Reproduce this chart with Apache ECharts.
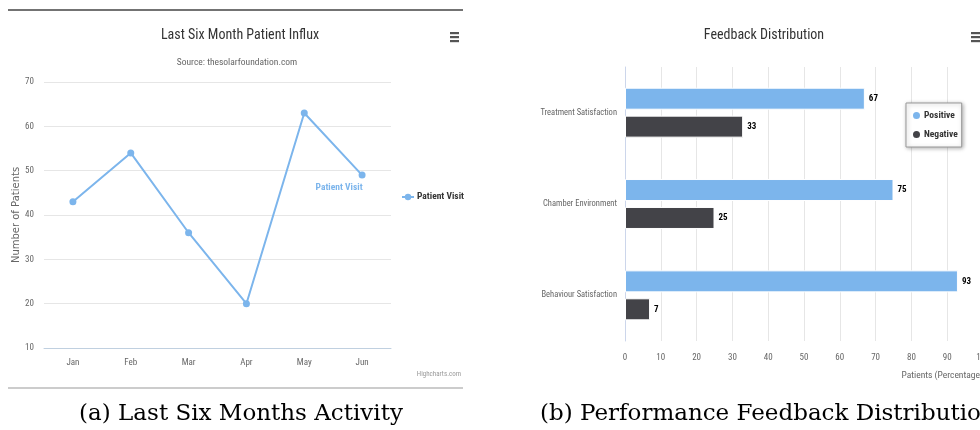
<!DOCTYPE html>
<html>
<head>
<meta charset="utf-8">
<script src="https://cdn.jsdelivr.net/npm/echarts@6/dist/echarts.min.js"></script>
<style>
  html, body { margin: 0; padding: 0; background: #fff; }
  #chart { width: 980px; height: 430px; }
</style>
</head>
<body>
<div id="chart"></div>
<script>
// Patient influx over six months
const months = ['Jan', 'Feb', 'Mar', 'Apr', 'May', 'Jun'];
const patientVisits = [43, 54, 36, 20, 63, 49];

// Feedback distribution per aspect (percent of patients)
const feedbackCategories = ['Treatment Satisfaction', 'Chamber Environment', 'Behaviour Satisfaction'];
const positiveFeedback = [67, 75, 93];
const negativeFeedback = [33, 25, 7];

const NARROW = '"Roboto Condensed", "DejaVu Sans Condensed", sans-serif';
const SERIF = '"DejaVu Serif", "Liberation Serif", serif';

// three-bar menu icon
function menuIcon(x, y) {
  return {
    type: 'group', x: x, y: y,
    children: [0, 4, 8].map(dy => ({
      type: 'rect', shape: { x: 0, y: dy, width: 9, height: 2.2 },
      style: { fill: '#555' }
    }))
  };
}

const chart = echarts.init(document.getElementById('chart'), null, { renderer: 'canvas' });

chart.setOption({
  animation: false,
  title: [
    { text: 'Last Six Month Patient Influx', left: 240, top: 28, textAlign: 'center', padding: 0,
      textStyle: { fontFamily: NARROW, fontSize: 14, fontWeight: 'normal', color: '#333' } },
    { text: 'Source: thesolarfoundation.com', left: 237, top: 58, textAlign: 'center', padding: 0,
      textStyle: { fontFamily: NARROW, fontSize: 9.5, fontWeight: 'normal', color: '#666' } },
    { text: 'Feedback Distribution', left: 764, top: 28, textAlign: 'center', padding: 0,
      textStyle: { fontFamily: NARROW, fontSize: 14, fontWeight: 'normal', color: '#333' } }
  ],
  legend: [
    { data: ['Patient Visit'], left: 401, top: 192, orient: 'vertical', padding: 0,
      itemWidth: 12, itemHeight: 8, itemGap: 4,
      textStyle: { fontFamily: NARROW, fontSize: 9.5, fontWeight: 'bold', color: '#333', padding: [0, 0, 0, -2] } },
    { data: ['Positive', 'Negative'], left: 906, top: 103, orient: 'vertical',
      icon: 'circle', itemWidth: 9, itemHeight: 9, itemGap: 8,
      padding: [7, 4, 7, 5],
      backgroundColor: '#fff', borderColor: '#999', borderWidth: 1,
      shadowColor: 'rgba(0,0,0,0.3)', shadowBlur: 4, shadowOffsetX: 1, shadowOffsetY: 1,
      textStyle: { fontFamily: NARROW, fontSize: 9.5, fontWeight: 'bold', color: '#333', padding: [0, 0, 0, -2] } }
  ],
  grid: [
    { left: 44, top: 82, width: 347, height: 266, outerBoundsMode: 'none' },
    { left: 625, top: 67, width: 358, height: 274, outerBoundsMode: 'none' }
  ],
  xAxis: [
    { type: 'category', gridIndex: 0, data: months, boundaryGap: true,
      axisLine: { lineStyle: { color: '#c0d0e0' } },
      axisTick: { show: false },
      axisLabel: { color: '#666', fontFamily: NARROW, fontSize: 9, margin: 10 } },
    { type: 'value', gridIndex: 1, min: 0, max: 100, interval: 10,
      name: 'Patients (Percentage)', nameLocation: 'end', nameGap: 0,
      nameTextStyle: { fontFamily: NARROW, fontSize: 9.5, color: '#666',
        align: 'right', verticalAlign: 'top', padding: [30, 0, 0, 0] },
      axisLine: { show: false }, axisTick: { show: false },
      splitLine: { lineStyle: { color: '#e6e6e6' } },
      axisLabel: { color: '#666', fontFamily: NARROW, fontSize: 9, margin: 12 } }
  ],
  yAxis: [
    { type: 'value', gridIndex: 0, min: 10, max: 70, interval: 10,
      name: 'Number of Patients', nameLocation: 'middle', nameRotate: 90, nameGap: 23,
      nameTextStyle: { fontFamily: '"DejaVu Sans", sans-serif', fontSize: 10, color: '#666' },
      axisLine: { show: false }, axisTick: { show: false },
      splitLine: { lineStyle: { color: '#e6e6e6' } },
      axisLabel: { color: '#666', fontFamily: NARROW, fontSize: 9, margin: 10 } },
    { type: 'category', gridIndex: 1, data: feedbackCategories, inverse: true,
      axisLine: { lineStyle: { color: '#ccd6eb' } },
      axisTick: { show: false },
      axisLabel: { color: '#666', fontFamily: NARROW, fontSize: 8.5, margin: 8 } }
  ],
  series: [
    { name: 'Patient Visit', type: 'line', xAxisIndex: 0, yAxisIndex: 0,
      data: patientVisits.map((v, i) => i === patientVisits.length - 1
        ? { value: v, label: { show: true, formatter: 'Patient Visit', position: 'bottom',
            distance: 4, offset: [-23, 0], color: '#7cb5ec',
            fontFamily: NARROW, fontSize: 9.5, fontWeight: 'bold' } }
        : v),
      color: '#7cb5ec', symbol: 'circle', symbolSize: 7,
      lineStyle: { width: 2, color: '#7cb5ec' },
      itemStyle: { color: '#7cb5ec' } },
    { name: 'Positive', type: 'bar', xAxisIndex: 1, yAxisIndex: 1,
      data: positiveFeedback, color: '#7cb5ec', barWidth: 22, barGap: '27%',
      itemStyle: { color: '#7cb5ec', borderColor: '#fff', borderWidth: 1 },
      label: { show: true, position: 'right', distance: 4, color: '#000',
        fontFamily: NARROW, fontSize: 9, fontWeight: 'bold' } },
    { name: 'Negative', type: 'bar', xAxisIndex: 1, yAxisIndex: 1,
      data: negativeFeedback, color: '#434348', barWidth: 22, barGap: '27%',
      itemStyle: { color: '#434348', borderColor: '#fff', borderWidth: 1 },
      label: { show: true, position: 'right', distance: 4, color: '#000',
        fontFamily: NARROW, fontSize: 9, fontWeight: 'bold' } }
  ],
  graphic: [
    { type: 'line', shape: { x1: 8, y1: 10, x2: 463, y2: 10 },
      style: { stroke: '#444', lineWidth: 1.5 } },
    { type: 'line', shape: { x1: 8, y1: 388, x2: 463, y2: 388 },
      style: { stroke: '#999', lineWidth: 1 } },
    menuIcon(450, 32),
    menuIcon(971, 32),
    { type: 'text', x: 461, y: 374,
      style: { text: 'Highcharts.com', fill: '#999', font: '7px ' + NARROW,
        textAlign: 'right', textVerticalAlign: 'middle' } },
    { type: 'text', x: 241, y: 414,
      style: { text: '(a) Last Six Months Activity', fill: '#000', font: '23px ' + SERIF,
        textAlign: 'center', textVerticalAlign: 'middle' } },
    { type: 'text', x: 540, y: 414,
      style: { text: '(b) Performance Feedback Distribution', fill: '#000', font: '23px ' + SERIF,
        textAlign: 'left', textVerticalAlign: 'middle' } }
  ]
});
</script>
</body>
</html>
